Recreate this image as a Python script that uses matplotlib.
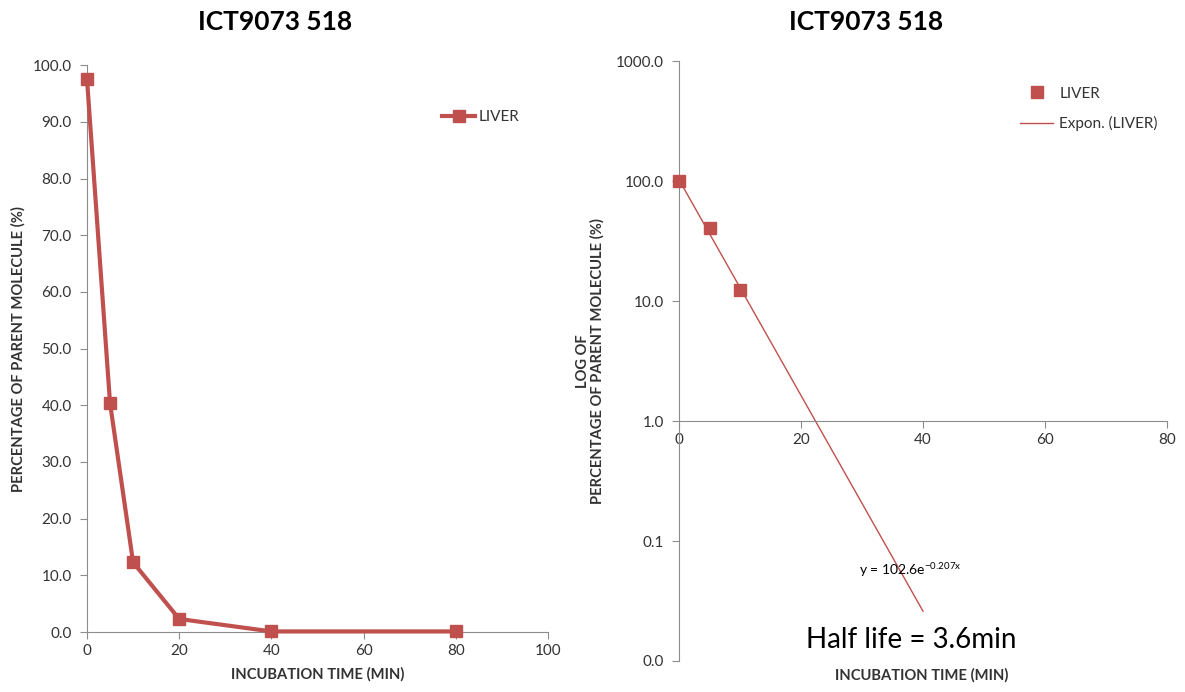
import numpy as np
import matplotlib.pyplot as plt
from matplotlib.ticker import FixedLocator, FuncFormatter
from matplotlib.lines import Line2D

plt.rcParams['font.family'] = ['Lato', 'DejaVu Sans']

time_min = [0, 5, 10, 20, 40, 80]
parent_pct = [97.6, 40.4, 12.3, 2.3, 0.1, 0.1]

# log plot only shows the early points used for the fit
log_time = [0, 5, 10]
log_pct = [99.5, 40.6, 12.4]

fit_a = 102.6
fit_k = 0.207
fit_end = 40

red = '#C0504D'
grey = '#8c8c8c'
txt = '#333333'

fig = plt.figure(figsize=(11.85, 6.92), dpi=100)

# ---- linear chart ----
ax1 = fig.add_axes([0.0734, 0.0867, 0.389, 0.819])
ax1.plot(time_min, parent_pct, color=red, lw=3, marker='s', ms=9,
         label='LIVER', zorder=3, clip_on=False)
ax1.set_xlim(0, 100)
ax1.set_ylim(0, 100)
ax1.set_xticks(range(0, 101, 20))
ax1.set_yticks(np.arange(0, 101, 10))
ax1.yaxis.set_major_formatter(FuncFormatter(lambda v, p: f'{v:.1f}'))
for s in ['top', 'right']:
    ax1.spines[s].set_visible(False)
for s in ['left', 'bottom']:
    ax1.spines[s].set_color(grey)
ax1.tick_params(colors=grey, labelcolor=txt, labelsize=11, length=5, direction='out')
ax1.tick_params(axis='y', pad=6)
ax1.set_xlabel('INCUBATION TIME (MIN)', fontsize=10.6, fontweight='bold', color=txt, labelpad=7)
ax1.set_ylabel('PERCENTAGE OF PARENT MOLECULE (%)', fontsize=10.6, fontweight='bold', color=txt, labelpad=5)
ax1.legend(loc='upper left', bbox_to_anchor=(0.74, 0.945), frameon=False,
           fontsize=11, handlelength=2.2, labelcolor=txt, handletextpad=0.2)
fig.text(275 / 1185, 1 - 22 / 692, 'ICT9073 518', fontsize=19, fontweight='bold',
         ha='center', va='center', color='black')

# ---- log chart ----
ax2 = fig.add_axes([0.573, 0.0448, 0.4118, 0.867])
ax2.set_yscale('log')
ax2.set_xlim(0, 80)
ax2.set_ylim(0.01, 1000)
fx = np.linspace(0, fit_end, 100)
ax2.plot(fx, fit_a * np.exp(-fit_k * fx), color=red, lw=1, zorder=2)
ax2.plot(log_time, log_pct, ls='none', marker='s', ms=9, color=red, zorder=3, clip_on=False)
ax2.spines['bottom'].set_position(('data', 1))
for s in ['top', 'right']:
    ax2.spines[s].set_visible(False)
for s in ['left', 'bottom']:
    ax2.spines[s].set_color(grey)
ax2.set_xticks(range(0, 81, 20))
ax2.yaxis.set_major_locator(FixedLocator([0.01, 0.1, 1, 10, 100, 1000]))
ax2.yaxis.set_minor_locator(FixedLocator([]))
ax2.yaxis.set_major_formatter(FuncFormatter(lambda v, p: f'{v:.1f}'))
ax2.tick_params(colors=grey, labelcolor=txt, labelsize=11, length=5, direction='out')
ax2.tick_params(axis='y', pad=6)
ax2.set_ylabel('LOG OF\nPERCENTAGE OF PARENT MOLECULE (%)', fontsize=10.6,
               fontweight='bold', color=txt, labelpad=8, linespacing=1.0)
fig.text(922 / 1185, 1 - 675 / 692, 'INCUBATION TIME (MIN)', fontsize=10.6,
         fontweight='bold', ha='center', va='center', color=txt)
ax2.text(910 / 1185, 1 - 570 / 692, r'y = 102.6e$^{\mathregular{-0.207x}}$',
         transform=fig.transFigure, fontsize=10, ha='center', va='center', color='black')
ax2.text(911 / 1185, 1 - 640 / 692, 'Half life = 3.6min', transform=fig.transFigure,
         fontsize=20, ha='center', va='center', color='black')
handles = [Line2D([], [], ls='none', marker='s', ms=9, color=red),
           Line2D([], [], color=red, lw=1)]
ax2.legend(handles, ['LIVER', 'Expon. (LIVER)'], loc='upper left',
           bbox_to_anchor=(0.67, 0.98), frameon=False, fontsize=11,
           handlelength=2.2, labelcolor=txt, labelspacing=1.0, handletextpad=0.4)
fig.text(866 / 1185, 1 - 22 / 692, 'ICT9073 518', fontsize=19, fontweight='bold',
         ha='center', va='center', color='black')

fig.savefig('out.png', dpi=100, facecolor='white')
